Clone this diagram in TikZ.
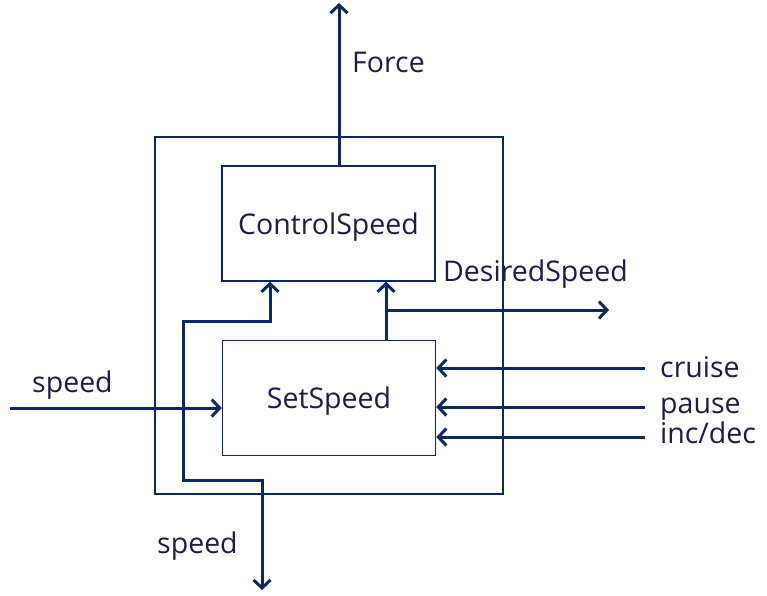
\documentclass[tikz,border=0pt]{standalone}
\usepackage{fontspec}
\setmainfont{Open Sans}
\usetikzlibrary{arrows.meta,positioning}
\definecolor{navy}{RGB}{12,40,100}
\definecolor{ink}{RGB}{32,26,72}
\tikzset{>={Straight Barb[length=8pt,width=17pt]}}
\tikzstyle{line} = [draw=navy, line width=3pt, ->]
\tikzstyle{block} = [draw=navy, line width=1.5pt, rectangle, text=ink, text depth=0pt, minimum width=213pt, minimum height=115pt, font=\fontsize{28.5}{34}\selectfont]
\tikzstyle{frame} = [draw=navy, line width=1.5pt, rectangle, minimum width=348pt, minimum height=357pt]
\tikzstyle{sig} = [text=ink, inner sep=0pt, anchor=base west, font=\fontsize{28.5}{34}\selectfont]

\begin{document}
\begin{tikzpicture}[x=1pt, y=-1pt]
        \useasboundingbox (0,0) rectangle (767,595);
        \node[frame] (outer) at (329,315.5) {};
        \node[block] (control) at (328.5,223.5) {ControlSpeed};
        \node[block] (setspeed) at (329,398) {SetSpeed};
        % outputs
        \coordinate (force) at (339,3);
        \path[line] (control.north -| force) -- (force);
        \node[sig] (forcelbl) at (352,72) {Force};
        \coordinate (desired) at (386,310);
        \coordinate (desiredout) at (609,310);
        \path[line] (setspeed.north -| desired) -- (control.south -| desired);
        \path[line] (desired) -- (desiredout);
        \node[sig] (desiredlbl) at (443,281) {DesiredSpeed};
        % speed in and fed back
        \coordinate (speedin) at (10,408);
        \path[line] (speedin) -- (speedin -| setspeed.west);
        \node[sig] (speedinlbl) at (32,392) {speed};
        \coordinate (fbtop) at (270,321);
        \coordinate (fbleft) at (183,480);
        \coordinate (speedout) at (262,590);
        \path[line, <->] (control.south -| fbtop) -- (fbtop) -| (fbleft) -- (fbleft -| speedout) -- (speedout);
        \node[sig] (speedoutlbl) at (157,553) {speed};
        % buttons
        \foreach \y/\base/\txt [count=\i] in {368/377/cruise, 407/413/pause, 437/443/{inc/dec}} {
            \coordinate (btn\i) at (645,\y);
            \path[line] (btn\i) -- (btn\i -| setspeed.east);
            \node[sig] (btnlbl\i) at (660,\base) {\txt};
        }
    \end{tikzpicture}
\end{document}
